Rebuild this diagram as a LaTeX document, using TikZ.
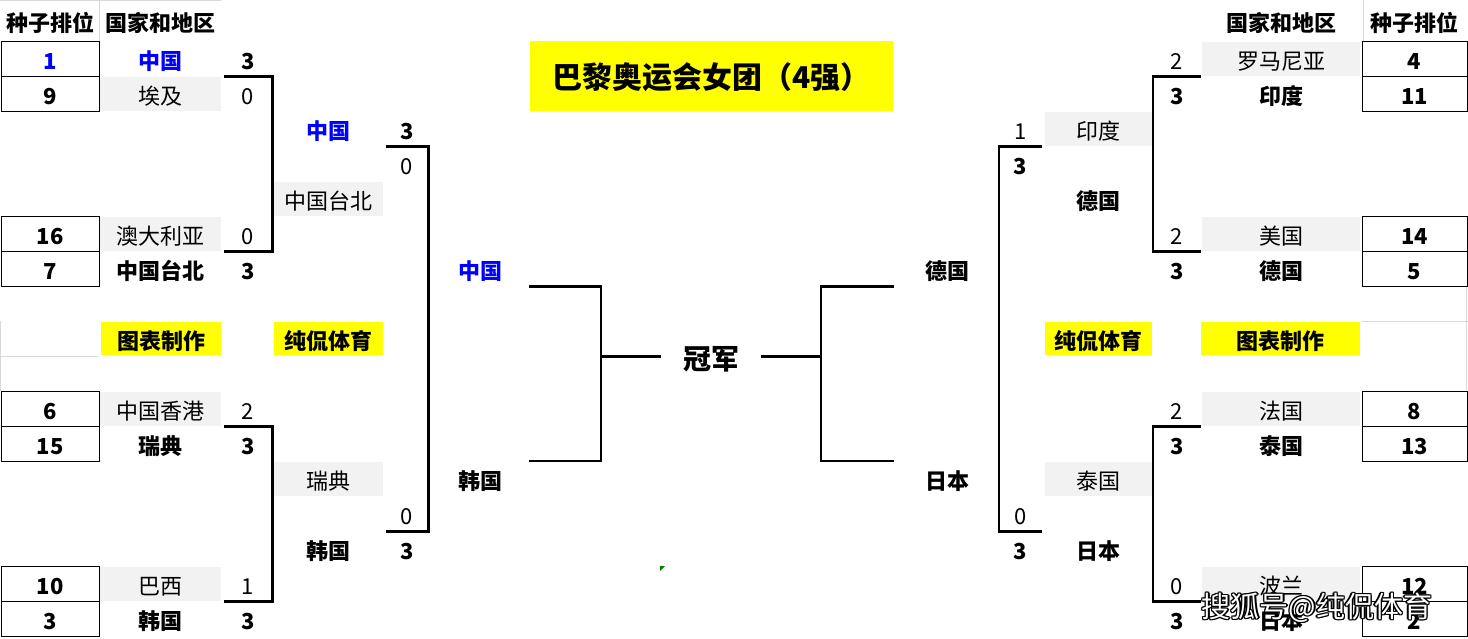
\documentclass[tikz,border=0pt]{standalone}
\usepackage{fontspec}
\setmainfont{Noto Sans CJK SC}
\usetikzlibrary{calc}

\definecolor{cellgray}{HTML}{F2F2F2}
\definecolor{tagyellow}{HTML}{FFFF00}
\definecolor{cnblue}{HTML}{0000FF}
\definecolor{gridgray}{HTML}{D9D9D9}

\newcommand{\txt}[1]{\fontsize{#1}{#1}\selectfont}

\begin{document}
\begin{tikzpicture}[x=1pt,y=-1pt,
   every node/.style={inner sep=0pt,font=\txt{22},text height=24pt,text depth=3pt},
   cell/.style={minimum width=#1,minimum height=35pt},
   plain/.style={},
   win/.style={font=\txt{22}\bfseries},
   wincn/.style={win,text=cnblue},
   lose/.style={fill=cellgray,minimum height=34pt},
   seedbox/.style={cell=#1,draw,line width=0.8pt,font=\txt{22}\bfseries},
   tagbox/.style={fill=tagyellow,minimum width=#1,minimum height=33pt,font=\txt{22}\bfseries},
   bracket/.style={line width=2.6pt},
   gridline/.style={draw=gridgray,line width=0.8pt},
   wmtext/.style={font=\txt{29},text height=29pt,text depth=4pt}
  ]
  \fill[white] (0,0) rectangle (1468,638);
  \useasboundingbox (0,0) rectangle (1468,638);
  % sheet grid
  \draw[gridline] (0,0.5) -- (221,0.5) (99.5,0) -- (99.5,41);
  \draw[gridline] (0.5,321) -- (0.5,391) (0,356.5) -- (98,356.5);
  \draw[gridline] (1363,0) -- (1363,41) (1362,321.5) -- (1468,321.5) (1466.5,286) -- (1466.5,391);
  % headings
  \node[win] (headseed) at (50,20.5) {种子排位};
  \node[win] (headteam) at (160.5,20.5) {国家和地区};
  \node[win] (rheadteam) at (1281,20.5) {国家和地区};
  \node[win] (rheadseed) at (1414.5,20.5) {种子排位};
  \node[fill=tagyellow,minimum width=363pt,minimum height=70pt,font=\txt{30}\bfseries,text height=30pt,text depth=5pt] (title) at (711.5,76) {巴黎奥运会女团（4强）};
  % left half
  \foreach \r/\s/\c in {1/1/cnblue,2/9/black,6/16/black,7/7/black,11/6/black,12/15/black,16/10/black,17/3/black}
    \node[seedbox=98pt,text=\c] (seed-\r) at (50,{23.5+35*\r}) {\s};
  \foreach \r/\t/\st in {1/中国/wincn,2/埃及/lose,6/澳大利亚/lose,7/中国台北/win,11/中国香港/lose,12/瑞典/win,16/巴西/lose,17/韩国/win}
    \node[cell=121pt,\st] (team-\r) at (160.5,{23.5+35*\r}) {\t};
  \foreach \r/\v/\st in {1/3/win,2/0/plain,6/0/plain,7/3/win,11/2/plain,12/3/win,16/1/plain,17/3/win}
    \node[cell=48pt,\st] (score-\r) at (248,{23.5+35*\r}) {\v};
  \foreach \r/\t/\st in {3/中国/wincn,5/中国台北/lose,13/瑞典/lose,15/韩国/win}
    \node[cell=109pt,\st] (second-\r) at (328.5,{23.5+35*\r}) {\t};
  \foreach \r/\v/\st in {3/3/win,4/0/plain,14/0/plain,15/3/win}
    \node[cell=42pt,\st] (secscore-\r) at (407,{23.5+35*\r}) {\v};
  \foreach \r/\t/\st in {7/中国/wincn,13/韩国/win}
    \node[cell=98pt,\st] (semi-\r) at (480,{23.5+35*\r}) {\t};
  % right half
  \foreach \r/\s in {1/4,2/11,6/14,7/5,11/8,12/13,16/12,17/2}
    \node[seedbox=105pt] (rseed-\r) at (1414.5,{23.5+35*\r}) {\s};
  \foreach \r/\t/\st in {1/罗马尼亚/lose,2/印度/win,6/美国/lose,7/德国/win,11/法国/lose,12/泰国/win,16/波兰/lose,17/日本/win}
    \node[cell=158pt,\st] (rteam-\r) at (1281,{23.5+35*\r}) {\t};
  \foreach \r/\v/\st in {1/2/plain,2/3/win,6/2/plain,7/3/win,11/2/plain,12/3/win,16/0/plain,17/3/win}
    \node[cell=48pt,\st] (rscore-\r) at (1177,{23.5+35*\r}) {\v};
  \foreach \r/\t/\st in {3/印度/lose,5/德国/win,13/泰国/lose,15/日本/win}
    \node[cell=107pt,\st] (rsecond-\r) at (1098.5,{23.5+35*\r}) {\t};
  \foreach \r/\v/\st in {3/1/plain,4/3/win,14/0/plain,15/3/win}
    \node[cell=43pt,\st] (rsecscore-\r) at (1020.5,{23.5+35*\r}) {\v};
  \foreach \r/\t/\st in {7/德国/win,13/日本/win}
    \node[cell=106pt,\st] (rsemi-\r) at (947,{23.5+35*\r}) {\t};
  % yellow tags
  \node[tagbox=120pt] (tag-chart) at (161,338.5) {图表制作};
  \node[tagbox=109pt] (tag-name) at (328.5,338.5) {纯侃体育};
  \node[tagbox=107pt] (rtag-name) at (1098.5,338.5) {纯侃体育};
  \node[tagbox=159pt] (rtag-chart) at (1280.5,338.5) {图表制作};
  \node[cell=100pt,font=\txt{28}\bfseries,text height=29.5pt,text depth=4pt] (champ) at (711,356.5) {冠军};
  % brackets
  \draw[bracket] (score-1.south west) -- (score-1.south east) -- (score-6.south east) -- (score-6.south west);
  \draw[bracket] (score-11.south west) -- (score-11.south east) -- (score-16.south east) -- (score-16.south west);
  \draw[bracket] (secscore-3.south west) -- (secscore-3.south east) -- (secscore-14.south east) -- (secscore-14.south west);
  \draw[bracket] (rscore-1.south east) -- (rscore-1.south west) -- (rscore-6.south west) -- (rscore-6.south east);
  \draw[bracket] (rscore-11.south east) -- (rscore-11.south west) -- (rscore-16.south west) -- (rscore-16.south east);
  \draw[bracket] (rsecscore-3.south east) -- (rsecscore-3.south west) -- (rsecscore-14.south west) -- (rsecscore-14.south east);
  \coordinate (joinL) at (601,356.5);
  \coordinate (joinR) at (821,356.5);
  \draw[bracket] (semi-7.south east) -| (joinL) |- (semi-13.north east);
  \draw[bracket] (joinL) -- (champ.west);
  \draw[bracket] (rsemi-7.south west) -| (joinR) |- (rsemi-13.north west);
  \draw[bracket] (joinR) -- (champ.east);
  \fill[green!50!black] (660,566) -- (665,566) -- (660,571) -- cycle;
  % watermark
  \foreach \a in {0,45,...,315}
    \node[wmtext,text=black] (halo-\a) at ($(1317,605)+(\a:1.3)$) {搜狐号@纯侃体育};
  \node[wmtext,text=white] (watermark) at (1317,605) {搜狐号@纯侃体育};
\end{tikzpicture}
\end{document}
